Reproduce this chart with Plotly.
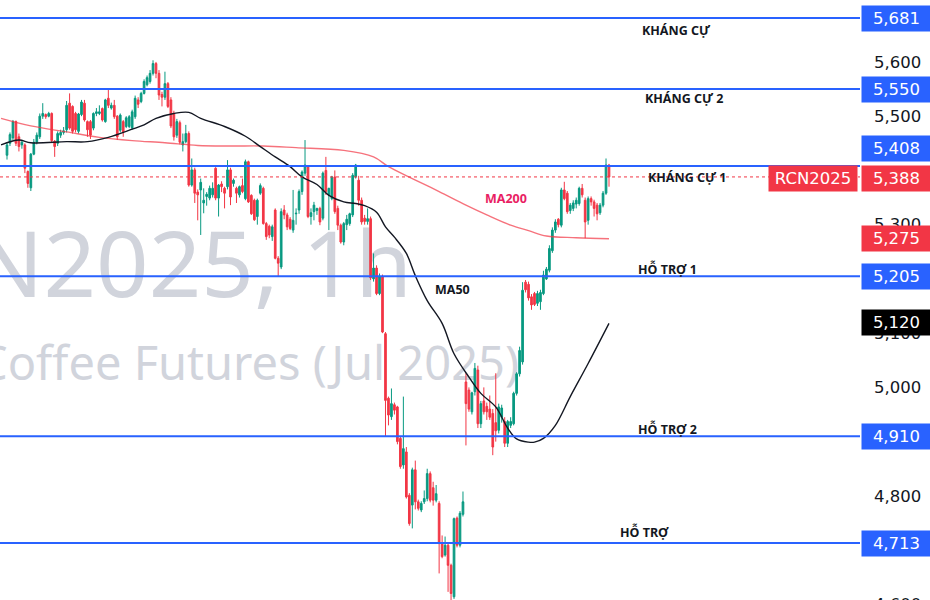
import plotly.graph_objects as go

# ---------------- data ----------------
open_ = [5428,5450,5460,5490,5462,5447,5447,5398,5368,5430,5452,5462,5500,5503,5500,5505,5454,5450,5465,5470,
         5475,5524,5518,5505,5472,5503,5524,5490,5490,5478,5505,5505,5514,5490,5533,5515,5520,5500,5474,5490,
         5481,5481,5478,5499,5530,5527,5542,5558,5564,5579,5597,5579,5540,5535,5560,5530,5505,5465,5488,5447,
         5453,5468,5373,5401,5360,5364,5340,5352,5349,5355,5404,5349,5375,5367,5370,5401,5376,5367,5355,5372,
         5348,5416,5354,5345,5315,5358,5367,5302,5297,5278,5327,5238,5222,5327,5318,5310,5290,5320,5327,5361,
         5395,5407,5315,5324,5326,5330,5312,5400,5355,5348,5388,5330,5299,5268,5300,5302,5318,5388,5382,5345,
         5312,5306,5311,5200,5220,5173,5204,5099,4980,4946,4968,4964,4906,4857,4881,4801,4783,4848,4789,4774,
         4789,4795,4841,4815,4792,4786,4712,4691,4709,4672,4614,4759,4709,4766,5010,4995,4955,4992,5032,4933,
         4975,4965,4960,4952,4935,4921,4945,4937,4897,4930,4933,4989,5025,5047,5194,5190,5167,5173,5155,5158,
         5173,5200,5216,5252,5290,5310,5299,5364,5358,5326,5330,5338,5339,5367,5345,5308,5348,5342,5336,5322,
         5336,5358,5410]
high = [5452,5470,5493,5492,5468,5456,5450,5400,5432,5458,5470,5505,5524,5505,5508,5507,5456,5472,5475,5480,
        5528,5542,5520,5508,5506,5530,5530,5492,5493,5507,5515,5520,5516,5532,5551,5525,5530,5502,5505,5493,
        5500,5502,5512,5538,5535,5545,5568,5575,5585,5603,5600,5585,5545,5582,5563,5535,5510,5495,5492,5468,
        5484,5472,5422,5405,5365,5385,5367,5360,5372,5378,5406,5375,5380,5370,5419,5405,5385,5370,5372,5385,
        5420,5418,5356,5348,5348,5376,5370,5305,5300,5300,5330,5242,5330,5336,5322,5314,5364,5330,5365,5400,
        5456,5410,5330,5342,5331,5333,5398,5425,5368,5390,5400,5335,5302,5305,5318,5322,5395,5412,5390,5350,
        5318,5330,5315,5247,5225,5210,5208,5102,4983,4998,4972,4966,4910,4983,4890,4805,4852,4865,4793,4790,
        4810,4850,4845,4826,4820,4790,4727,4725,4712,4675,4760,4762,4772,4808,5026,5000,4992,5045,5040,4975,
        5000,4972,4985,4960,5026,4970,4968,4945,4940,4945,4992,5028,5075,5194,5198,5195,5172,5176,5178,5180,
        5215,5222,5262,5295,5310,5312,5368,5379,5362,5340,5345,5350,5370,5375,5350,5352,5352,5346,5340,5340,
        5362,5422,5412]
low = [5420,5445,5455,5445,5435,5440,5395,5368,5362,5428,5448,5458,5495,5495,5498,5452,5425,5445,5460,5466,
       5470,5475,5468,5470,5468,5500,5490,5462,5458,5474,5500,5502,5490,5488,5515,5512,5495,5456,5470,5462,
       5478,5478,5475,5495,5515,5524,5540,5555,5560,5575,5570,5530,5518,5530,5515,5478,5455,5460,5448,5435,
       5450,5370,5370,5340,5308,5281,5321,5335,5345,5350,5345,5315,5360,5330,5365,5336,5370,5340,5350,5358,
       5345,5340,5318,5307,5300,5355,5300,5272,5275,5270,5236,5204,5218,5310,5290,5290,5285,5300,5320,5355,
       5390,5312,5300,5308,5318,5299,5308,5355,5290,5345,5320,5290,5265,5262,5290,5298,5314,5385,5335,5300,
       5300,5300,5198,5195,5170,5170,5100,4909,4930,4940,4950,4895,4850,4850,4795,4745,4740,4775,4773,4770,
       4785,4790,4788,4782,4788,4657,4685,4688,4623,4608,4610,4705,4705,4762,4893,4955,4950,4985,4925,4925,
       4950,4940,4940,4875,4900,4915,4935,4890,4890,4925,4930,4985,5020,5042,5175,5160,5143,5150,5150,5143,
       5170,5198,5212,5248,5285,5295,5295,5345,5320,5320,5325,5330,5335,5350,5275,5300,5335,5315,5308,5318,
       5332,5355,5370]
close = [5447,5466,5490,5450,5444,5452,5404,5376,5430,5452,5465,5500,5505,5499,5505,5455,5444,5468,5470,5473,
         5520,5478,5472,5475,5504,5526,5493,5475,5465,5505,5508,5508,5493,5530,5520,5520,5499,5462,5502,5471,
         5497,5499,5508,5533,5522,5542,5564,5571,5579,5597,5579,5539,5535,5560,5518,5482,5462,5490,5452,5453,
         5468,5373,5401,5358,5355,5378,5345,5356,5367,5367,5349,5373,5370,5358,5401,5351,5382,5358,5370,5361,
         5416,5342,5320,5309,5345,5372,5302,5278,5281,5296,5238,5229,5324,5318,5296,5293,5308,5321,5361,5397,
         5410,5315,5322,5336,5330,5305,5395,5361,5367,5388,5324,5299,5268,5302,5310,5320,5391,5410,5345,5305,
         5306,5311,5202,5220,5173,5204,5102,4976,4949,4970,4958,4900,4854,4887,4798,4749,4848,4789,4777,4786,
         4795,4841,4792,4792,4804,4712,4688,4709,4672,4620,4758,4709,4768,4789,4970,4960,4990,5035,4933,4970,
         4955,4955,4945,4890,4920,4964,4962,4897,4937,4937,4989,5025,5068,5179,5180,5165,5152,5153,5173,5175,
         5207,5218,5256,5290,5305,5300,5364,5348,5324,5336,5340,5345,5367,5355,5305,5348,5342,5330,5320,5336,
         5358,5410,5388]

# moving averages, sampled at candle indices
ma50_idx = [-2,4,8,20,27,34,42,46,50,56,61,65,73,80,85,90,95,99,104,108,113,117,120,124,127,130,134,137,
            141,146,150,155,159,164,168,171,175,177,180,184,189,195,202]
ma50_val = [5447,5456,5451,5453,5453,5461,5476,5484,5496,5505,5507,5496,5481,5463,5444,5425,5407,5388,5374,
            5354,5342,5339,5335,5323,5296,5277,5247,5206,5160,5118,5062,5019,4989,4964,4925,4905,4899,4899,
            4906,4930,4983,5044,5118]
ma200_idx = [-2,8,20,31,42,53,64,75,86,97,113,123,128,136,145,154,161,169,175,181,191,202]
ma200_val = [5496,5482,5471,5461,5455,5451,5446,5445,5445,5442,5437,5425,5407,5385,5361,5336,5318,5299,
             5289,5279,5276,5274]

levels = [5681, 5550, 5408, 5205, 4910, 4713]
level_names = ["KHÁNG CỰ", "KHÁNG CỰ 2", "KHÁNG CỰ 1", "HỖ TRỢ 1", "HỖ TRỢ 2", "HỖ TRỢ"]
last_price = 5388
ma200_last = 5275
ma50_last = 5120
y_ticks = [5700, 5600, 5500, 5300, 5100, 5000, 4800]
bottom_tick = 4600
symbol = "RCN2025"
watermark_1 = "RCN2025, 1h"
watermark_2 = "Robusta Coffee Futures (Jul 2025)"

# ---------------- style ----------------
GREEN = "#089981"
RED = "#F23645"
BLUE = "#2962FF"
TXT = "#131722"
FONT = "Noto Sans"
SCALE_FONT = "DejaVu Sans"
W, H = 930, 600
PW = 860  # plot width in px
Y0, Y1 = 4608.0, 5714.2
FIRST_PX, LAST_PX = 7.0, 609.0

N = len(close)
xs = list(range(N))
step = (LAST_PX - FIRST_PX) / (N - 1)
x_lo = -FIRST_PX / step
x_hi = x_lo + PW / step

fig = go.Figure()
fig.add_trace(go.Candlestick(
    x=xs, open=open_, high=high, low=low, close=close,
    increasing=dict(line=dict(color=GREEN, width=1), fillcolor=GREEN),
    decreasing=dict(line=dict(color=RED, width=1), fillcolor=RED),
    whiskerwidth=0, showlegend=False, hoverinfo="skip"))
fig.add_trace(go.Scatter(x=ma200_idx, y=ma200_val, mode="lines",
                         line=dict(color="rgba(242,54,69,0.7)", width=1.4, shape="spline"),
                         hoverinfo="skip", showlegend=False))
fig.add_trace(go.Scatter(x=ma50_idx, y=ma50_val, mode="lines",
                         line=dict(color=TXT, width=1.4, shape="spline"),
                         hoverinfo="skip", showlegend=False))

shapes = []
# watermark behind candles
def wm(text, right_px, center_px, size):
    return dict(type="rect", xref="paper", yref="paper", x0=-1.0, x1=right_px / PW,
                y0=1 - (center_px + 45) / H, y1=1 - (center_px - 45) / H,
                line=dict(width=0), fillcolor="rgba(0,0,0,0)", layer="below",
                label=dict(text=text, textposition="middle right", padding=0,
                           font=dict(family=FONT, size=size, color="#D1D4DC")))
shapes.append(wm(watermark_1, 415, 267, 92))
shapes.append(wm(watermark_2, 522, 365, 47))

for lv in levels:
    shapes.append(dict(type="line", xref="paper", x0=0, x1=1, yref="y", y0=lv, y1=lv,
                       line=dict(color=BLUE, width=2)))
shapes.append(dict(type="line", xref="paper", x0=0, x1=1, yref="y", y0=last_price, y1=last_price,
                   line=dict(color=RED, width=1, dash="dot")))

ann = []
# level names
name_pos = [(640, 12), (643, 9), (646, 11), (636, -7), (636, -7), (618, -11)]
for nm, lv, (px, dy) in zip(level_names, levels, name_pos):
    ann.append(dict(text=nm, xref="paper", x=px / PW, xanchor="left", yref="y", y=lv, yshift=-dy,
                    yanchor="middle", showarrow=False,
                    font=dict(family=FONT, size=12.5, color=TXT, weight="bold")))
ann.append(dict(text="MA200", xref="paper", x=483 / PW, xanchor="left", yref="paper", y=1 - 198 / H,
                yanchor="middle", showarrow=False, font=dict(family=FONT, size=12.5, color="#E91E63", weight="bold")))
ann.append(dict(text="MA50", xref="paper", x=433 / PW, xanchor="left", yref="paper", y=1 - 289 / H,
                yanchor="middle", showarrow=False, font=dict(family=FONT, size=12.5, color=TXT, weight="bold")))

# symbol label
ann.append(dict(text=symbol, xref="paper", x=1, xshift=-2, xanchor="right", yref="y", y=last_price, yshift=-2,
                yanchor="middle", showarrow=False, bgcolor=RED, borderpad=2, width=84, height=21,
                align="center", font=dict(family=SCALE_FONT, size=16.5, color="white")))

# price-scale labels
scale_labels = [(levels[0], BLUE, 0), (levels[1], BLUE, 0), (levels[2], BLUE, 18), (last_price, RED, -2),
                (ma200_last, RED, 0), (levels[3], BLUE, 0), (ma50_last, "#000000", 0),
                (levels[4], BLUE, 0), (levels[5], BLUE, 0)]
for val, col, sh in scale_labels:
    ann.append(dict(text=f"{val:,}", xref="paper", x=1, xshift=1, xanchor="left", yref="y", y=val, yshift=sh,
                    yanchor="middle", showarrow=False, bgcolor=col, borderpad=2, width=65, height=21,
                    align="center", font=dict(family=SCALE_FONT, size=16.5, color="white")))
ann.append(dict(text=f"{bottom_tick:,}", xref="paper", x=1, xshift=12, xanchor="left", yref="paper",
                y=(bottom_tick - Y0) / (Y1 - Y0), yanchor="middle", showarrow=False,
                font=dict(family=SCALE_FONT, size=16.5, color=TXT)))

fig.update_layout(
    width=W, height=H, margin=dict(l=0, r=W - PW, t=0, b=0),
    paper_bgcolor="white", plot_bgcolor="white", showlegend=False, hovermode=False,
    boxgap=0.2,
    xaxis=dict(range=[x_lo, x_hi], visible=False, rangeslider=dict(visible=False), fixedrange=True),
    yaxis=dict(side="right", range=[Y0, Y1], tickvals=y_ticks, ticktext=[f"{v:,}" for v in y_ticks],
               showgrid=False, zeroline=False, showline=False, ticks="", ticklabelstandoff=13,
               tickfont=dict(family=SCALE_FONT, size=16.5, color=TXT), fixedrange=True),
    shapes=shapes, annotations=ann)

fig.write_html("out.html", config={"displayModeBar": False, "staticPlot": True},
               post_script="document.body.style.margin='0';document.body.style.overflow='hidden';")
